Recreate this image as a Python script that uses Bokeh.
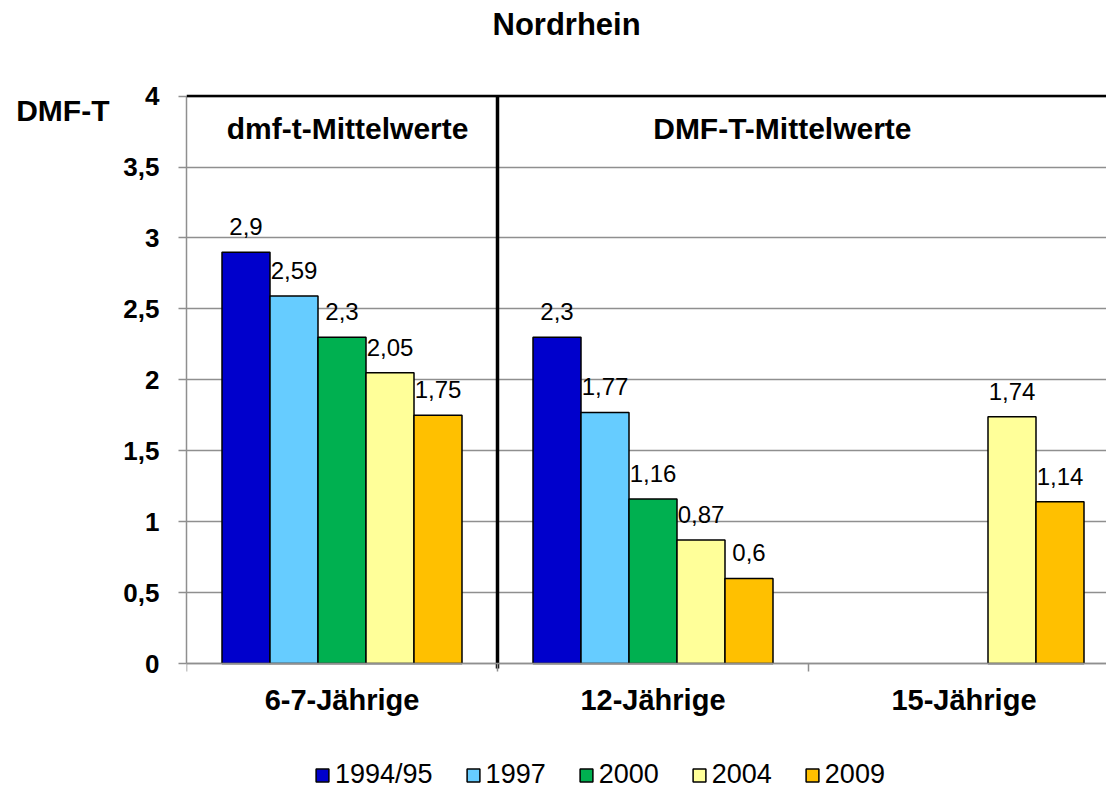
from bokeh.plotting import figure
from bokeh.models import (ColumnDataSource, Range1d, FixedTicker, LabelSet, Label,
                          Span, Legend, LegendItem, LinearAxis)
from bokeh.core.properties import value
from bokeh.transform import dodge
from bokeh.embed import file_html
from bokeh.resources import INLINE

# ---------------- data ----------------
categories = ["6-7-Jährige", "12-Jährige", "15-Jährige"]
series = ["1994/95", "1997", "2000", "2004", "2009"]
v_1994 = [2.9, 2.3, None]
v_1997 = [2.59, 1.77, None]
v_2000 = [2.3, 1.16, None]
v_2004 = [2.05, 0.87, 1.74]
v_2009 = [1.75, 0.6, 1.14]
values = [v_1994, v_1997, v_2000, v_2004, v_2009]
colors = ["#0000CC", "#66CCFF", "#00B050", "#FFFF99", "#FFC000"]
y_ticks = [0, 0.5, 1, 1.5, 2, 2.5, 3, 3.5, 4]
y_tick_labels = ["0", "0,5", "1", "1,5", "2", "2,5", "3", "3,5", "4"]
title_text = "Nordrhein"
y_title = "DMF-T"
section_left = "dmf-t-Mittelwerte"
section_right = "DMF-T-Mittelwerte"

FONT = "Liberation Sans"
GRID = "#8f8f8f"

# layout geometry (pixels inside the figure)
W, H = 1106, 790
LEFT, TOP = 186, 40
Y0_PX, Y4_PX = 662, 90            # where value 0 and value 4 sit
CAT_PX = 311.0                    # width of one category
px_per_unit = (Y0_PX - Y4_PX) / 4.0
y_hi = 4 + (Y4_PX - TOP) / px_per_unit
y_lo = 0 - (H - Y0_PX) / px_per_unit
x_hi = (W - LEFT) / CAT_PX

p = figure(width=W, height=H, output_backend="svg", toolbar_location=None,
           x_range=Range1d(0, x_hi), y_range=Range1d(y_lo, y_hi),
           x_axis_location=None,
           min_border_left=LEFT, min_border_right=0, min_border_top=TOP,
           min_border_bottom=0)
p.outline_line_color = None
p.background_fill_color = "white"
p.border_fill_color = "white"
p.xgrid.grid_line_color = None
p.ygrid.grid_line_color = GRID
p.ygrid.grid_line_width = 1.5
p.ygrid.ticker = FixedTicker(ticks=y_ticks)

# title
p.title.text = title_text
p.title.align = "left"
p.title.offset = 306
p.title.standoff = 9
p.title.text_font = FONT
p.title.text_font_style = "bold"
p.title.text_font_size = "31px"
p.title.text_color = "black"

# y axis
p.yaxis.ticker = FixedTicker(ticks=y_ticks)
p.yaxis.bounds = (y_ticks[0], y_ticks[-1])
p.yaxis.major_label_overrides = {t: l for t, l in zip(y_ticks, y_tick_labels)}
p.yaxis.major_label_text_font = FONT
p.yaxis.major_label_text_font_style = "bold"
p.yaxis.major_label_text_font_size = "26px"
p.yaxis.major_label_text_color = "black"
p.yaxis.axis_line_color = GRID
p.yaxis.axis_line_width = 1.5
p.yaxis.major_tick_line_color = GRID
p.yaxis.major_tick_line_width = 1.5
p.yaxis.major_tick_in = 0
p.yaxis.major_tick_out = 8
p.yaxis.minor_tick_line_color = None
p.yaxis.major_label_standoff = 19

# outer left axis carrying the "DMF-T" caption next to the top of the scale
cap_y = 3.895
cap_axis = LinearAxis(ticker=FixedTicker(ticks=[cap_y]),
                      major_label_overrides={cap_y: y_title},
                      axis_line_color=None, major_tick_line_color=None,
                      minor_tick_line_color=None, major_tick_in=0, major_tick_out=0,
                      major_label_standoff=11,
                      major_label_text_font=FONT, major_label_text_font_style="bold",
                      major_label_text_font_size="30px", major_label_text_color="black")
p.add_layout(cap_axis, "left")

# x axis line at value 0, with ticks at the category boundaries pointing down
centers = [i + 0.5 for i in range(len(categories))]
bounds = [i for i in range(len(categories) + 1)]
xaxis = LinearAxis(fixed_location=0, ticker=FixedTicker(ticks=[], minor_ticks=bounds),
                   axis_line_color=GRID, axis_line_width=1.5,
                   major_tick_line_color=None, major_tick_in=0, major_tick_out=0,
                   minor_tick_line_color=GRID, minor_tick_line_width=1.5,
                   minor_tick_in=8, minor_tick_out=0,
                   major_label_standoff=0, major_label_text_font_size="0px")
p.add_layout(xaxis, "above")

cat_src = ColumnDataSource(dict(x=centers, y=[0] * len(centers), name=categories))
p.add_layout(LabelSet(x="x", y="y", text="name", source=cat_src, y_offset=-36,
                      text_align="center", text_baseline="middle",
                      text_font=value(FONT), text_font_style=value("bold"),
                      text_font_size=value("29px"), text_color="black"))

# bars
n = len(series)
bar_w = 48 / CAT_PX
items = []
for j, (name, vals, col) in enumerate(zip(series, values, colors)):
    xs = [c for c, v in zip(centers, vals) if v is not None]
    ys = [v for v in vals if v is not None]
    labs = [("%g" % v).replace(".", ",") for v in ys]
    src = ColumnDataSource(dict(x=xs, top=ys, lab=labs))
    off = (j - (n - 1) / 2) * bar_w
    r = p.vbar(x=dodge("x", off, range=p.x_range), top="top", width=bar_w, bottom=0,
               source=src, fill_color=col, line_color="black", line_width=1.5)
    items.append(LegendItem(label=name, renderers=[r]))
    ls = LabelSet(x=dodge("x", off, range=p.x_range), y="top", text="lab", source=src,
                  text_align="center", text_baseline="alphabetic", y_offset=17,
                  text_font=value(FONT), text_font_size=value("24px"),
                  text_color="black")
    p.add_layout(ls)

# decorations: frame top line and the divider between dmf-t and DMF-T groups
p.add_layout(Span(location=y_ticks[-1], dimension="width", line_color="black",
                  line_width=2.5))
div_src = ColumnDataSource(dict(x=[bounds[1]], y0=[-0.035], y1=[y_ticks[-1]]))
p.segment(x0="x", y0="y0", x1="x", y1="y1", source=div_src, line_color="black",
          line_width=3.5)

p.add_layout(Label(x=0.518, y=3.769, text=section_left, text_align="center",
                   text_baseline="middle", text_font=FONT, text_font_style="bold",
                   text_font_size="30px", text_color="black"))
p.add_layout(Label(x=1.916, y=3.769, text=section_right, text_align="center",
                   text_baseline="middle", text_font=FONT, text_font_style="bold",
                   text_font_size="30px", text_color="black"))

legend = Legend(items=items, orientation="horizontal", location=(128, 0),
                glyph_width=16, glyph_height=16, label_standoff=5, spacing=32,
                label_text_font=FONT, label_text_font_size="27px",
                label_text_color="black", border_line_color=None,
                background_fill_alpha=0, padding=0, margin=0)
p.add_layout(legend, "center")

open("out.html", "w").write(file_html(p, INLINE))
